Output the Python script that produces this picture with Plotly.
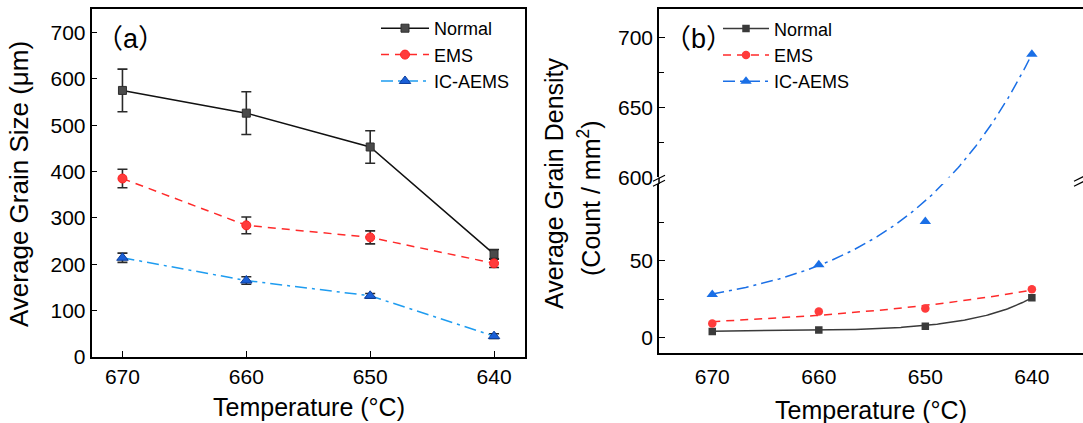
import numpy as np
import plotly.graph_objects as go

# ---------------- data ----------------
temps = [670, 660, 650, 640]
temp_ticks = [670, 660, 650, 640]

# (a) average grain size (um) with error bars
size_normal = [575, 526, 453, 222]
size_normal_err = [46, 46, 35, 10]
size_ems = [385, 284, 258, 202]
size_ems_err = [20, 18, 14, 9]
size_ic = [214, 165, 132, 45]
size_ic_err = [10, 8, 5, 5]
size_ticks = [0, 100, 200, 300, 400, 500, 600, 700]

# (b) average grain density (count / mm^2)
dens_normal = [3.9, 4.8, 7.2, 25.8]
dens_ems = [9.1, 16.9, 18.9, 31.3]
dens_ic = [28, 47.3, 75.5, 688]
dens_low_ticks = [0, 50]
dens_low_minor = [25, 75]
dens_high_ticks = [600, 650, 700]
dens_high_minor = [625, 675]

series_names = ["Normal", "EMS", "IC-AEMS"]

# ---------------- layout constants ----------------
W, H = 1083, 423
VSCALE = 0.974          # rendered page height / layout height
FONT = "Liberation Sans, Arial, Helvetica, sans-serif"
CJK_FAMILY = "Noto Sans CJK SC"
AX = "#000000"


def px_x(p):
    return p / W


def px_y(p):
    return 1 - (p / VSCALE) / H


# panel (a) frame (pixels)
A_LEFT, A_RIGHT, A_TOP, A_BOTTOM = 91.5, 525, 9.3, 357
A_XRANGE = [672.5, 637.5]
A_YRANGE = [0, 750]

# panel (b) frame (pixels): broken y axis, two stacked segments
B_LEFT, B_RIGHT = 659, 1083
B_TOP, B_BREAK_HI, B_BREAK_LO, B_BOTTOM = 9.3, 177.5, 184, 352.7
B_XRANGE = [675, 635.2]
LOW_RANGE = [-10, 100]
HIGH_RANGE = [600, 720]

# colours / styles
C_NORMAL_LINE = "#111111"
C_NORMAL_MK = "#4a4a4a"
C_EMS = "#ff2a2a"
C_EMS_MK = "#ff3b3b"
C_IC_LINE_A = "#1e9cf0"
C_IC_MK_A = "#1a5fd6"
C_IC_B = "#1a6fe6"
C_NORMAL_B = "#3a3a3a"
ERR = "#2a2a2a"
DASH = "8px,6px"
DASHDOT = "12px,5px,3px,5px"

fig = go.Figure()

# ---------------- panel (a) ----------------
a_specs = [
    (series_names[0], size_normal, size_normal_err, C_NORMAL_LINE, "solid", "square", C_NORMAL_MK, "#2e2e2e", 8),
    (series_names[1], size_ems, size_ems_err, C_EMS, DASH, "circle", C_EMS_MK, "#ff2020", 9),
    (series_names[2], size_ic, size_ic_err, C_IC_LINE_A, DASHDOT, "triangle-up", C_IC_MK_A, "#0d3f9e", 10),
]
for name, vals, err, lc, dash, sym, mc, mlc, ms in a_specs:
    fig.add_trace(go.Scatter(
        x=temps, y=vals, name=name, mode="lines+markers",
        xaxis="x", yaxis="y", legend="legend",
        line=dict(color=lc, width=1.5, dash=dash),
        marker=dict(symbol=sym, size=ms, color=mc, line=dict(color=mlc, width=1)),
        error_y=dict(type="data", array=err, visible=True, color=ERR, thickness=1.6, width=5),
    ))

# ---------------- panel (b) ----------------
low_h = (B_BOTTOM - B_BREAK_LO) / VSCALE
high_h = (B_BREAK_HI - B_TOP) / VSCALE
low_ppu = low_h / (LOW_RANGE[1] - LOW_RANGE[0])
high_ppu = high_h / (HIGH_RANGE[1] - HIGH_RANGE[0])
high_base = (B_BOTTOM - B_BREAK_HI) / VSCALE  # lower-segment bottom to upper-segment bottom


def to_display(v):
    """Height in pixels above the bottom of the broken axis."""
    v = np.asarray(v, float)
    lo = (v - LOW_RANGE[0]) * low_ppu
    hi = high_base + (v - HIGH_RANGE[0]) * high_ppu
    return np.where(v <= LOW_RANGE[1], lo, hi)


def display_to_low(d):
    return d / low_ppu + LOW_RANGE[0]


def display_to_high(d):
    return (d - high_base) / high_ppu + HIGH_RANGE[0]


def exp_trend(temps_in, vals, weights):
    """Weighted least-squares a + b*exp(c*t) trend in display space of the broken axis."""
    t = (temps_in[0] - np.asarray(temps_in, float)) / 10.0
    d = to_display(vals)
    sw = np.sqrt(np.asarray(weights, float))
    best = None
    for c in np.linspace(0.02, 3.0, 1500):
        A = np.column_stack([np.ones_like(t), np.exp(c * t)])
        coef, *_ = np.linalg.lstsq(A * sw[:, None], d * sw, rcond=None)
        sse = float(np.sum(((A @ coef - d) * sw) ** 2))
        if best is None or sse < best[0]:
            best = (sse, c, coef)
    _, c, (a, b) = best
    tt = np.linspace(0, t[-1], 240)
    return temps_in[0] - tt * 10.0, a + b * np.exp(c * tt)


b_specs = [
    (series_names[0], dens_normal, [1, 1, 0.1, 1], C_NORMAL_B, "solid", "square", C_NORMAL_B, 7.5),
    (series_names[1], dens_ems, [1, 1, 1, 1], C_EMS, DASH, "circle", C_EMS_MK, 8.5),
    (series_names[2], dens_ic, [1, 1, 0.02, 1], C_IC_B, DASHDOT, "triangle-up", C_IC_B, 10),
]
for name, vals, wts, lc, dash, sym, mc, ms in b_specs:
    tx, td = exp_trend(temps, vals, wts)
    line = dict(color=lc, width=1.5, dash=dash)
    # trend curve, lower and upper segments (each clipped by its own axis range)
    fig.add_trace(go.Scatter(x=tx, y=display_to_low(td), mode="lines", line=line,
                             xaxis="x2", yaxis="y2", showlegend=False, hoverinfo="skip"))
    fig.add_trace(go.Scatter(x=tx, y=display_to_high(td), mode="lines", line=line,
                             xaxis="x3", yaxis="y3", showlegend=False, hoverinfo="skip"))
    vals = np.asarray(vals, float)
    low_mask = vals <= LOW_RANGE[1]
    mk = dict(symbol=sym, size=ms, color=mc, line=dict(width=0))
    fig.add_trace(go.Scatter(x=np.asarray(temps)[low_mask], y=vals[low_mask], mode="markers",
                             marker=mk, xaxis="x2", yaxis="y2", showlegend=False))
    fig.add_trace(go.Scatter(x=np.asarray(temps)[~low_mask], y=vals[~low_mask], mode="markers",
                             marker=mk, xaxis="x3", yaxis="y3", showlegend=False))
    # legend entry
    fig.add_trace(go.Scatter(x=[None], y=[None], name=name, mode="lines+markers",
                             line=line, marker=mk, xaxis="x2", yaxis="y2", legend="legend2"))

# ---------------- axes ----------------
tickfont = dict(family=FONT, size=21, color="#000")
common = dict(showline=True, linecolor=AX, linewidth=1.5, ticks="inside", ticklen=6,
              tickwidth=1.3, tickcolor=AX, showgrid=False, zeroline=False,
              tickfont=tickfont, fixedrange=True)

fig.update_layout(
    width=W, height=H, margin=dict(l=0, r=0, t=0, b=0),
    paper_bgcolor="white", plot_bgcolor="white",
    font=dict(family=FONT, size=18, color="#000"),
    xaxis=dict(domain=[px_x(A_LEFT), px_x(A_RIGHT)], range=A_XRANGE, anchor="y",
               tickmode="array", tickvals=temp_ticks, mirror=True, ticklabelstandoff=0, **common),
    yaxis=dict(domain=[px_y(A_BOTTOM), px_y(A_TOP)], range=A_YRANGE, anchor="x",
               tickmode="array", tickvals=size_ticks, mirror=True, **common),
    xaxis2=dict(domain=[px_x(B_LEFT), px_x(B_RIGHT)], range=B_XRANGE, anchor="y2",
                tickmode="array", tickvals=temp_ticks, ticklabelstandoff=4,
                **{**common, "ticks": ""}),
    yaxis2=dict(domain=[px_y(B_BOTTOM), px_y(B_BREAK_LO)], range=LOW_RANGE, anchor="x2",
                tickmode="array", tickvals=dens_low_ticks,
                minor=dict(tickmode="array", tickvals=dens_low_minor, ticks="inside",
                           ticklen=5, tickcolor=AX, tickwidth=1.3),
                **common),
    xaxis3=dict(domain=[px_x(B_LEFT), px_x(B_RIGHT)], range=B_XRANGE, anchor="y3",
                matches="x2", side="top", showticklabels=False,
                **{**common, "ticks": ""}),
    yaxis3=dict(domain=[px_y(B_BREAK_HI), px_y(B_TOP)], range=HIGH_RANGE, anchor="x3",
                tickmode="array", tickvals=dens_high_ticks,
                minor=dict(tickmode="array", tickvals=dens_high_minor, ticks="inside",
                           ticklen=5, tickcolor=AX, tickwidth=1.3),
                **common),
    legend=dict(x=px_x(376), y=px_y(10), xanchor="left", yanchor="top",
                bgcolor="rgba(0,0,0,0)", font=dict(family=FONT, size=18, color="#000"),
                itemwidth=48, tracegroupgap=0),
    legend2=dict(x=px_x(718), y=px_y(10.3), xanchor="left", yanchor="top",
                 bgcolor="rgba(0,0,0,0)", font=dict(family=FONT, size=18, color="#000"),
                 itemwidth=46, tracegroupgap=0),
    showlegend=True,
)

# ---------------- titles and panel labels ----------------
ann = [
    dict(text="Average Grain Size (μm)", x=px_x(19), y=px_y(184), textangle=-90, size=26),
    dict(text="Temperature (°C)", x=px_x(309), y=px_y(407), textangle=0, size=25),
    dict(text="Average Grain Density", x=px_x(554), y=px_y(183), textangle=-90, size=25),
    dict(text="(Count / mm<sup>2</sup>)", x=px_x(589), y=px_y(198), textangle=-90, size=25),
    dict(text="Temperature (°C)", x=px_x(871), y=px_y(410), textangle=0, size=25),
]
for a in ann:
    size = a.pop("size")
    fig.add_annotation(xref="paper", yref="paper", xanchor="center", yanchor="middle",
                       showarrow=False, font=dict(family=FONT, size=size, color="#000"), **a)


def panel_label(letter):
    """Letter wrapped in full-width parentheses."""
    paren = '<span style="font-family:%s">%s</span>'
    return paren % (CJK_FAMILY, "（") + letter + paren % (CJK_FAMILY, "）")


for letter, cx, cy in [("a", 130.5, 37), ("b", 698, 37)]:
    fig.add_annotation(text=panel_label(letter), xref="paper", yref="paper",
                       x=px_x(cx), y=px_y(cy), xanchor="center", yanchor="middle",
                       showarrow=False, font=dict(family=FONT, size=27, color="#000"))

# ---------------- axis break marks on panel (b) ----------------
shapes = []
# close the left axis line across the break gap
shapes.append(dict(type="line", xref="paper", yref="paper",
                   x0=px_x(B_LEFT), x1=px_x(B_LEFT), y0=px_y(B_BREAK_LO), y1=px_y(B_BREAK_HI),
                   line=dict(color=AX, width=1.5)))
for bx in (B_LEFT, B_RIGHT - 3):
    for off in (-2.5, 2.5):
        ymid = (B_BREAK_HI + B_BREAK_LO) / 2 + off
        shapes.append(dict(type="line", xref="paper", yref="paper",
                           x0=px_x(bx - 6), x1=px_x(bx + 6), y0=px_y(ymid + 3), y1=px_y(ymid - 3),
                           line=dict(color=AX, width=1.2)))
fig.update_layout(shapes=shapes)

fig.write_html("out.html")
